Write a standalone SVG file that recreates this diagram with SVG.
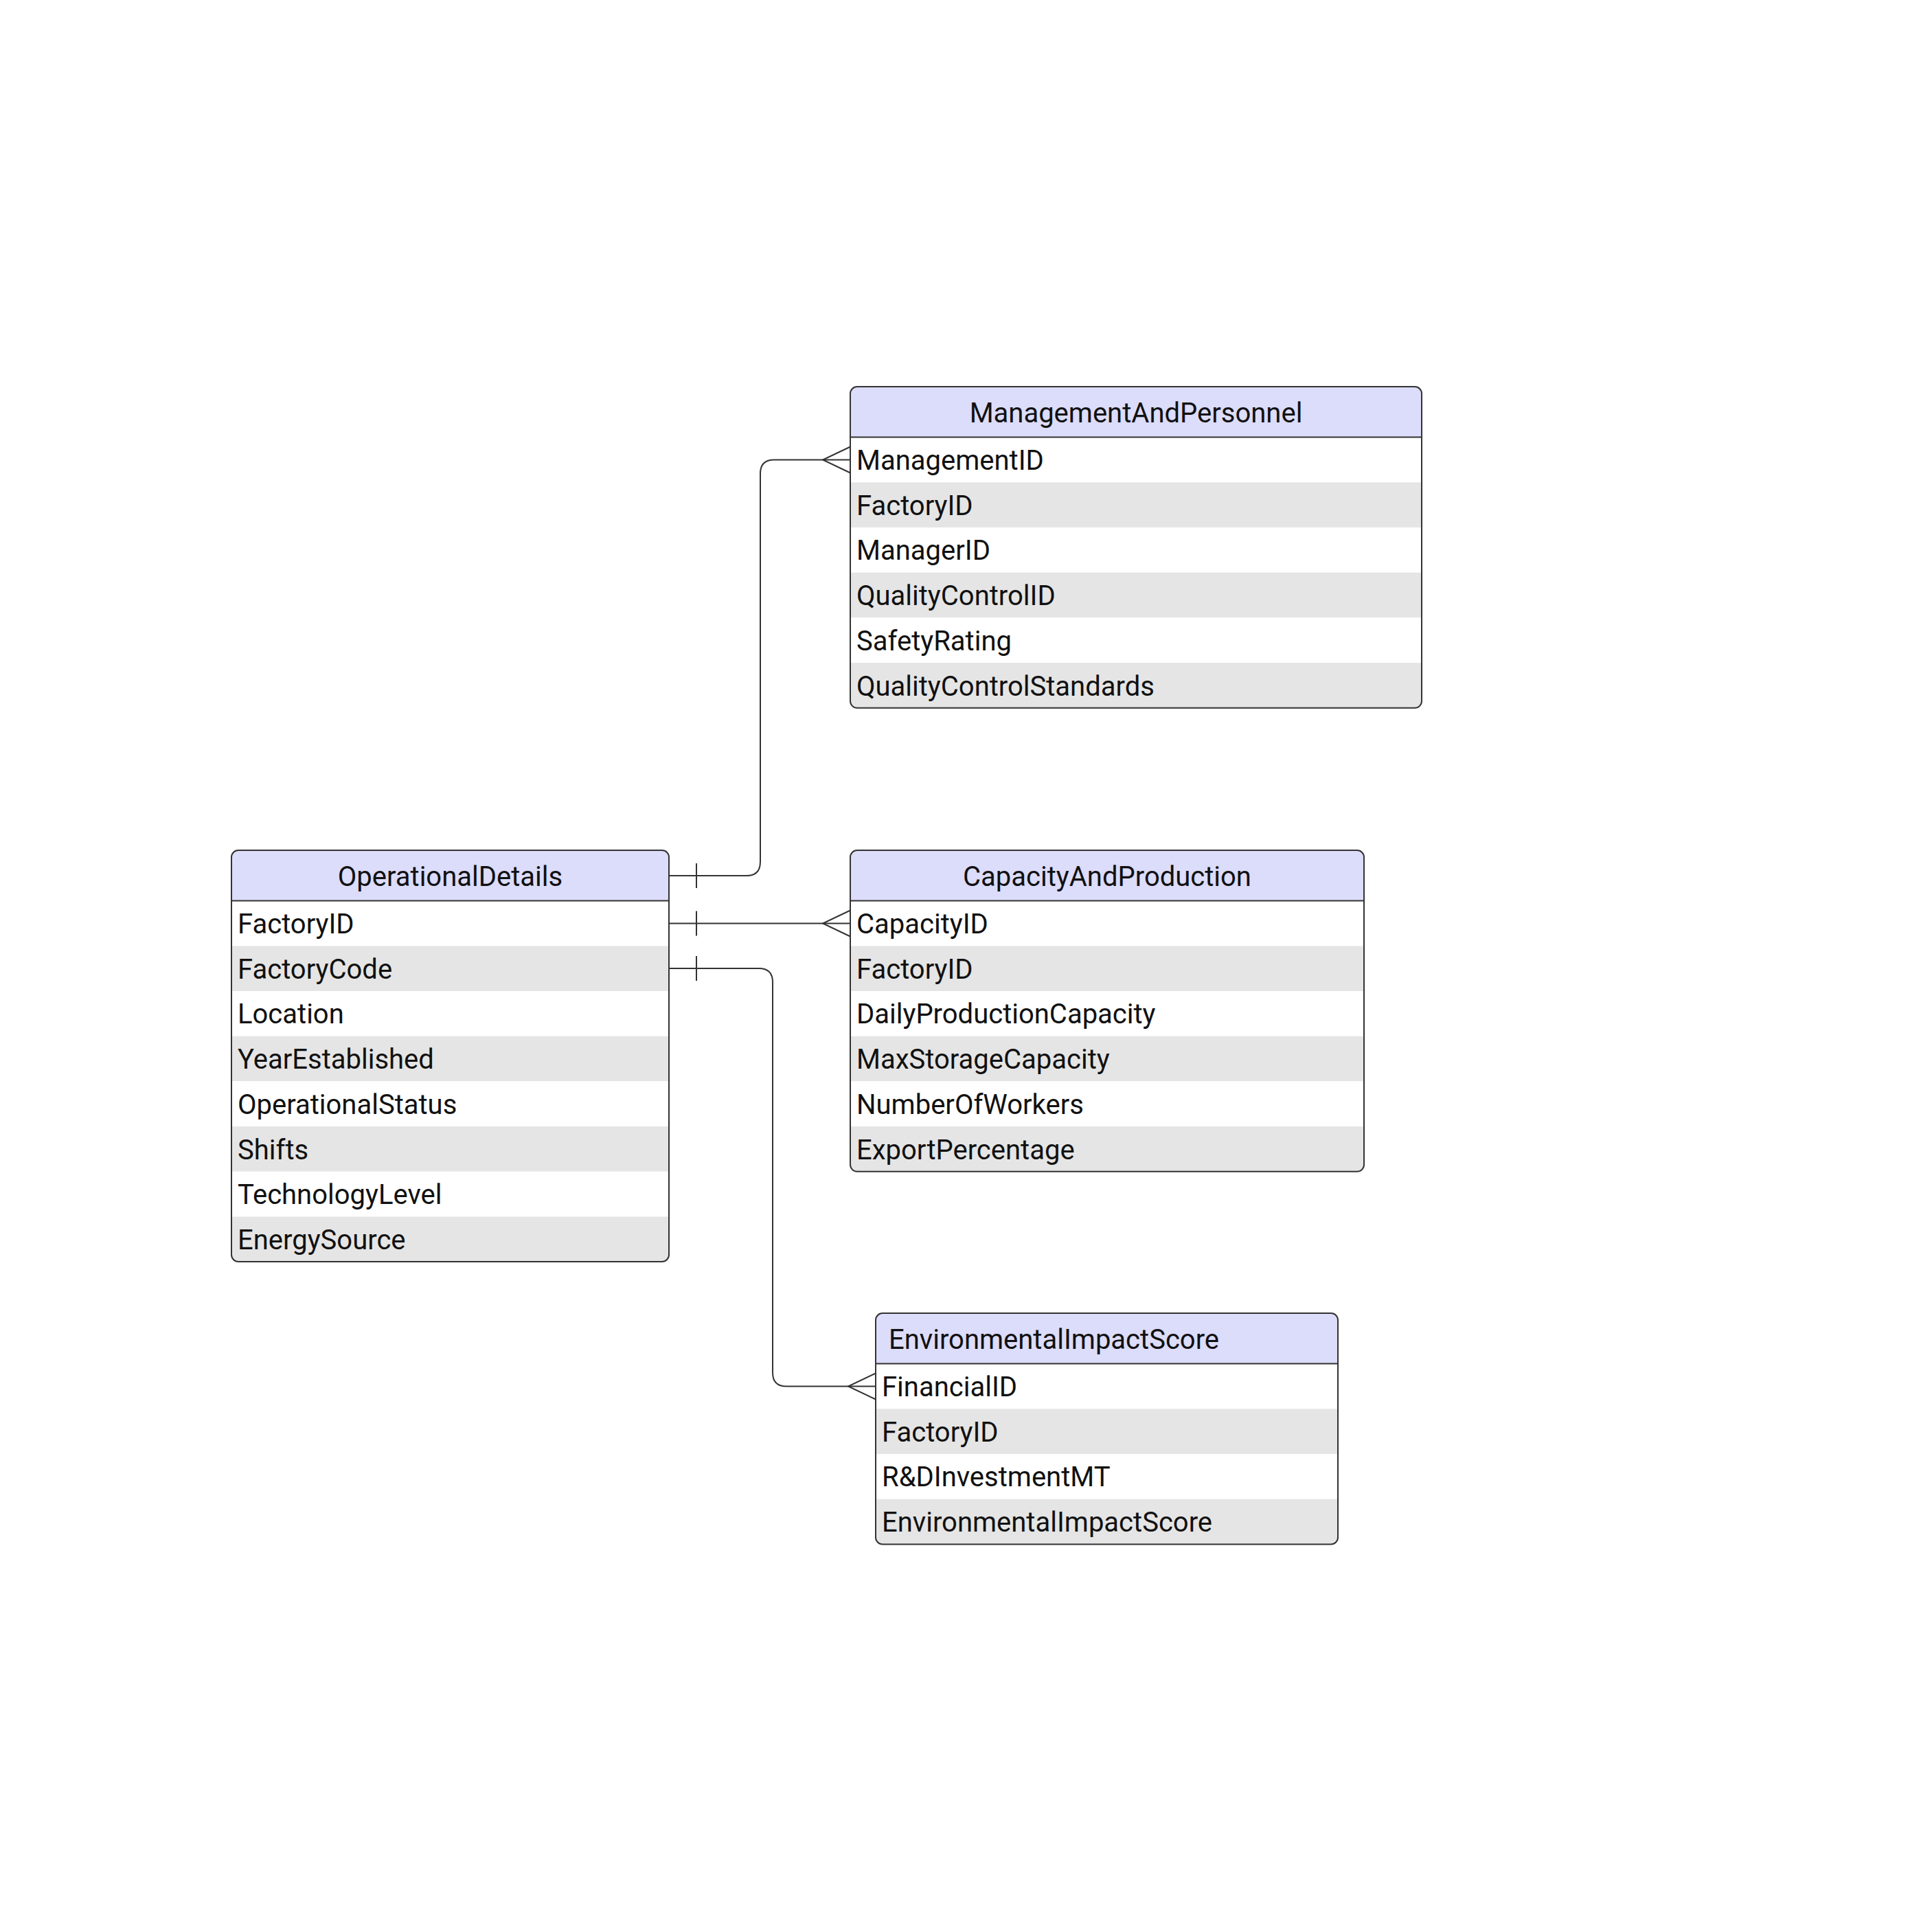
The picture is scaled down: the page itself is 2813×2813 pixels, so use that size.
<svg xmlns="http://www.w3.org/2000/svg" width="2813" height="2813" viewBox="0 0 2813 2813">
  <style>
    .hdr { fill: #dcdcfb; }
    .odd { fill: #ffffff; }
    .even { fill: #e5e5e5; }
    .frame { fill: none; stroke: #333333; stroke-width: 2; }
    .sep { stroke: #333333; stroke-width: 2; }
    .label { font-family: Roboto, "Liberation Sans", sans-serif; font-size: 40px; fill: #111111; dominant-baseline: central; }
    .title { text-anchor: middle; }
    .rel { fill: none; stroke: #333333; stroke-width: 2; }
  </style>
  <defs>
    <clipPath id="clip-od"><rect x="337" y="1238" width="637" height="599" rx="10"/></clipPath>
    <clipPath id="clip-map"><rect x="1238" y="563" width="832" height="467.8" rx="10"/></clipPath>
    <clipPath id="clip-cap"><rect x="1238" y="1238" width="748" height="467.8" rx="10"/></clipPath>
    <clipPath id="clip-eis"><rect x="1275" y="1912" width="673" height="336.4" rx="10"/></clipPath>
  </defs>
  <rect width="2813" height="2813" fill="#ffffff"/>

  <!-- relationships -->
  <g id="connectors">
    <!-- OperationalDetails -> ManagementAndPersonnel -->
    <path class="rel" d="M974,1275 H1087 Q1107,1275 1107,1255 V689.5 Q1107,669.5 1127,669.5 H1238"/>
    <path class="rel" d="M1014,1257 V1293"/>
    <path class="rel" d="M1238,650.5 L1198,669.5 L1238,688.5"/>
    <!-- OperationalDetails -> CapacityAndProduction -->
    <path class="rel" d="M974,1344.5 H1238"/>
    <path class="rel" d="M1014,1326.5 V1362.5"/>
    <path class="rel" d="M1238,1325.5 L1198,1344.5 L1238,1363.5"/>
    <!-- OperationalDetails -> EnvironmentalImpactScore -->
    <path class="rel" d="M974,1410 H1105 Q1125,1410 1125,1430 V1998.5 Q1125,2018.5 1145,2018.5 H1275"/>
    <path class="rel" d="M1014,1392 V1428"/>
    <path class="rel" d="M1275,1999.5 L1235,2018.5 L1275,2037.5"/>
  </g>

  <!-- OperationalDetails -->
  <g id="node-OperationalDetails">
    <g clip-path="url(#clip-od)">
      <rect class="hdr" x="337" y="1238" width="637" height="73.6"/>
      <rect class="odd" x="337" y="1311.6" width="637" height="65.7"/>
      <rect class="even" x="337" y="1377.3" width="637" height="65.7"/>
      <rect class="odd" x="337" y="1443" width="637" height="65.7"/>
      <rect class="even" x="337" y="1508.7" width="637" height="65.7"/>
      <rect class="odd" x="337" y="1574.4" width="637" height="65.7"/>
      <rect class="even" x="337" y="1640.1" width="637" height="65.7"/>
      <rect class="odd" x="337" y="1705.8" width="637" height="65.7"/>
      <rect class="even" x="337" y="1771.5" width="637" height="66"/>
    </g>
    <line class="sep" x1="337" y1="1311.6" x2="974" y2="1311.6"/>
    <rect class="frame" x="337" y="1238" width="637" height="599" rx="10"/>
    <text class="label title" x="655.5" y="1276">OperationalDetails</text>
    <text class="label" x="346" y="1345.5">FactoryID</text>
    <text class="label" x="346" y="1411.2">FactoryCode</text>
    <text class="label" x="346" y="1476.9">Location</text>
    <text class="label" x="346" y="1542.6">YearEstablished</text>
    <text class="label" x="346" y="1608.3">OperationalStatus</text>
    <text class="label" x="346" y="1674">Shifts</text>
    <text class="label" x="346" y="1739.7">TechnologyLevel</text>
    <text class="label" x="346" y="1805.4">EnergySource</text>
  </g>

  <!-- ManagementAndPersonnel -->
  <g id="node-ManagementAndPersonnel">
    <g clip-path="url(#clip-map)">
      <rect class="hdr" x="1238" y="563" width="832" height="73.6"/>
      <rect class="odd" x="1238" y="636.6" width="832" height="65.7"/>
      <rect class="even" x="1238" y="702.3" width="832" height="65.7"/>
      <rect class="odd" x="1238" y="768" width="832" height="65.7"/>
      <rect class="even" x="1238" y="833.7" width="832" height="65.7"/>
      <rect class="odd" x="1238" y="899.4" width="832" height="65.7"/>
      <rect class="even" x="1238" y="965.1" width="832" height="66"/>
    </g>
    <line class="sep" x1="1238" y1="636.6" x2="2070" y2="636.6"/>
    <rect class="frame" x="1238" y="563" width="832" height="467.8" rx="10"/>
    <text class="label title" x="1654" y="601">ManagementAndPersonnel</text>
    <text class="label" x="1247" y="670.5">ManagementID</text>
    <text class="label" x="1247" y="736.2">FactoryID</text>
    <text class="label" x="1247" y="801.9">ManagerID</text>
    <text class="label" x="1247" y="867.6">QualityControlID</text>
    <text class="label" x="1247" y="933.3">SafetyRating</text>
    <text class="label" x="1247" y="999">QualityControlStandards</text>
  </g>

  <!-- CapacityAndProduction -->
  <g id="node-CapacityAndProduction">
    <g clip-path="url(#clip-cap)">
      <rect class="hdr" x="1238" y="1238" width="748" height="73.6"/>
      <rect class="odd" x="1238" y="1311.6" width="748" height="65.7"/>
      <rect class="even" x="1238" y="1377.3" width="748" height="65.7"/>
      <rect class="odd" x="1238" y="1443" width="748" height="65.7"/>
      <rect class="even" x="1238" y="1508.7" width="748" height="65.7"/>
      <rect class="odd" x="1238" y="1574.4" width="748" height="65.7"/>
      <rect class="even" x="1238" y="1640.1" width="748" height="66"/>
    </g>
    <line class="sep" x1="1238" y1="1311.6" x2="1986" y2="1311.6"/>
    <rect class="frame" x="1238" y="1238" width="748" height="467.8" rx="10"/>
    <text class="label title" x="1612" y="1276">CapacityAndProduction</text>
    <text class="label" x="1247" y="1345.5">CapacityID</text>
    <text class="label" x="1247" y="1411.2">FactoryID</text>
    <text class="label" x="1247" y="1476.9">DailyProductionCapacity</text>
    <text class="label" x="1247" y="1542.6">MaxStorageCapacity</text>
    <text class="label" x="1247" y="1608.3">NumberOfWorkers</text>
    <text class="label" x="1247" y="1674">ExportPercentage</text>
  </g>

  <!-- EnvironmentalImpactScore -->
  <g id="node-EnvironmentalImpactScore">
    <g clip-path="url(#clip-eis)">
      <rect class="hdr" x="1275" y="1912" width="673" height="73.6"/>
      <rect class="odd" x="1275" y="1985.6" width="673" height="65.7"/>
      <rect class="even" x="1275" y="2051.3" width="673" height="65.7"/>
      <rect class="odd" x="1275" y="2117" width="673" height="65.7"/>
      <rect class="even" x="1275" y="2182.7" width="673" height="66"/>
    </g>
    <line class="sep" x1="1275" y1="1985.6" x2="1948" y2="1985.6"/>
    <rect class="frame" x="1275" y="1912" width="673" height="336.4" rx="10"/>
    <text class="label" x="1294" y="1950">EnvironmentalImpactScore</text>
    <text class="label" x="1284" y="2019.5">FinancialID</text>
    <text class="label" x="1284" y="2085.2">FactoryID</text>
    <text class="label" x="1284" y="2150.9">R&amp;DInvestmentMT</text>
    <text class="label" x="1284" y="2216.6">EnvironmentalImpactScore</text>
  </g>
</svg>
